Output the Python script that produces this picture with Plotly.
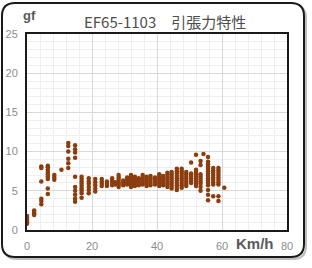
import plotly.graph_objects as go

# Speed positions (km/h) of each vertical group of measurements
speed_groups = [0.0, 2.2, 4.4, 6.4, 8.4, 10.6, 12.7, 14.8, 16.8, 19.0, 21.0,
                23.0, 24.6, 26.2, 27.2, 28.2, 29.6, 30.8, 32.0, 33.2, 34.4,
                35.6, 36.8, 38.0, 39.4, 40.7, 41.9, 43.2, 44.5, 46.1, 47.6,
                49.0, 50.5, 52.0, 53.4, 54.3, 55.7, 57.3, 58.9, 60.7]
# Tension (gf) readings for each group
tension_groups = [
    [0.8, 1.0, 1.2, 1.4, 1.6, 1.8],
    [1.9, 2.1, 2.3, 2.5],
    [3.3, 3.7, 4.0, 6.2, 7.9, 8.1],
    [4.6, 5.3, 6.5, 6.8, 7.1, 7.4, 7.7, 8.0, 8.2],
    [6.4, 6.7, 7.0],
    [7.7],
    [7.9, 8.5, 9.1, 10.0, 10.7, 11.1],
    [3.6, 4.0, 4.5, 5.0, 5.5, 6.8, 9.2, 9.9, 10.3, 10.8],
    [4.1, 4.7, 5.0, 5.3, 5.6, 5.9, 6.2, 6.5, 6.8],
    [4.7, 5.1, 5.5, 5.9, 6.2, 6.6],
    [4.9, 5.3, 5.7, 6.1, 6.5],
    [5.6, 5.9, 6.2, 6.5],
    [5.6, 5.9, 6.2],
    [5.7, 6.0, 6.3, 6.6],
    [5.8, 6.1],
    [5.5, 5.8, 6.1, 6.4, 6.7, 7.0],
    [5.7, 6.0, 6.3],
    [5.8, 6.1, 6.4, 6.7],
    [5.5, 5.8, 6.1, 6.4, 6.7, 7.0],
    [5.6, 5.9, 6.2, 6.5, 6.8],
    [5.7, 6.0, 6.3, 6.6],
    [5.8, 6.1, 6.4, 6.7, 7.0],
    [5.6, 5.9, 6.2, 6.5, 6.8],
    [5.7, 6.0, 6.3, 6.6, 6.9],
    [5.8, 6.1, 6.4, 6.7],
    [5.6, 5.9, 6.2, 6.5, 6.8, 7.1],
    [5.7, 6.0, 6.3, 6.6, 6.9],
    [5.5, 5.8, 6.1, 6.4, 6.7, 7.0, 7.3],
    [5.3, 5.6, 5.9, 6.2, 6.5, 6.8, 7.1, 7.4],
    [5.1, 5.4, 5.7, 6.0, 6.3, 6.6, 6.9, 7.2, 7.5, 7.8],
    [5.4, 5.7, 6.0, 6.3, 6.6, 6.9, 7.2, 7.5, 7.8],
    [5.6, 5.9, 6.2, 6.5, 6.8, 7.1, 7.4],
    [6.0, 6.3, 6.6, 6.9, 7.2, 8.6],
    [5.6, 5.9, 6.2, 6.5, 6.8, 7.1, 7.4, 7.7, 9.6],
    [5.0, 5.5, 5.9, 6.2, 6.5, 6.8, 7.1, 8.3, 8.8],
    [9.7],
    [3.8, 4.5, 5.1, 5.7, 6.0, 6.3, 6.6, 6.9, 7.2, 7.5, 7.8, 8.1, 8.4, 8.7, 9.3],
    [4.3, 5.8, 6.1, 6.4, 6.7, 7.0, 7.3, 7.6, 7.9],
    [3.7, 4.3, 5.8, 6.1, 6.4, 6.7, 7.0, 7.3, 7.6, 7.9],
    [5.4],
]
x_ticks = [0, 20, 40, 60, 80]
y_ticks = [0, 5, 10, 15, 20, 25]

xs, ys = [], []
for sx, grp in zip(speed_groups, tension_groups):
    for v in grp:
        xs.append(sx)
        ys.append(v)

W, H = 312, 268
L, R, T, B = 27, 287, 34, 230
pw, ph = R - L, B - T

def px(x):
    return (x - L) / pw

def py(y):
    return (B - y) / ph

def rrect(x0, y0, x1, y1, r):
    rx, ry = r / pw, r / ph
    a0, a1 = px(x0), px(x1)
    b0, b1 = py(y0), py(y1)  # b0 top (larger), b1 bottom
    return (f"M {a0+rx},{b0} L {a1-rx},{b0} Q {a1},{b0} {a1},{b0-ry} "
            f"L {a1},{b1+ry} Q {a1},{b1} {a1-rx},{b1} L {a0+rx},{b1} "
            f"Q {a0},{b1} {a0},{b1+ry} L {a0},{b0-ry} Q {a0},{b0} {a0+rx},{b0} Z")

fig = go.Figure()
fig.add_trace(go.Scatter(
    x=xs, y=ys, mode="markers",
    marker=dict(size=4.5, color="#8b3d0e"),
    hoverinfo="skip", showlegend=False,
))

fig.update_layout(
    width=W, height=H,
    margin=dict(l=L, r=W - R, t=T, b=H - B, autoexpand=False),
    paper_bgcolor="white", plot_bgcolor="white",
    font=dict(family="Liberation Sans, Arial, sans-serif", color="#8c8c8c", size=11),
    shapes=[
        dict(type="path", xref="paper", yref="paper",
             path=rrect(4, 5, 306, 259, 13),
             line=dict(color="#bdbdbd", width=2), layer="below"),
        dict(type="path", xref="paper", yref="paper",
             path=rrect(2, 3, 304, 257, 13),
             fillcolor="white",
             line=dict(color="#1a1a1a", width=2), layer="below"),
    ],
    annotations=[
        dict(text="EF65-1103　引張力特性", xref="paper", yref="paper",
             x=px(165), y=py(22), xanchor="center", yanchor="middle",
             showarrow=False,
             font=dict(family="Noto Sans CJK JP", size=15, color="#4d4d4d")),
        dict(text="<b>gf</b>", xref="paper", yref="paper",
             x=px(21), y=py(15), xanchor="left", yanchor="middle",
             showarrow=False,
             font=dict(family="Liberation Sans, Arial", size=13, color="#595959")),
        dict(text="<b>Km/h</b>", xref="paper", yref="paper",
             x=px(255), y=py(243), xanchor="center", yanchor="middle",
             showarrow=False,
             font=dict(family="Liberation Sans, Arial", size=15, color="#595959")),
    ],
)

fig.update_xaxes(
    range=[0, 80], tickvals=x_ticks, ticktext=[str(v) for v in x_ticks],
    showgrid=True, gridcolor="#d9d9d9", gridwidth=1,
    minor=dict(dtick=4, tick0=0, showgrid=True, gridcolor="#efefef", gridwidth=1),
    showline=True, linecolor="#1a1a1a", linewidth=2, mirror=True,
    ticks="outside", ticklen=5, tickcolor="rgba(0,0,0,0)",
    zeroline=False, fixedrange=True, automargin=False,
)
fig.update_yaxes(
    range=[0, 25], tickvals=y_ticks, ticktext=[str(v) for v in y_ticks],
    showgrid=True, gridcolor="#d9d9d9", gridwidth=1,
    minor=dict(dtick=1, tick0=0, showgrid=True, gridcolor="#efefef", gridwidth=1),
    showline=True, linecolor="#1a1a1a", linewidth=2, mirror=True,
    ticks="outside", ticklen=5, tickcolor="rgba(0,0,0,0)",
    zeroline=False, fixedrange=True, automargin=False,
)

fig.write_html("out.html", config=dict(displayModeBar=False))
